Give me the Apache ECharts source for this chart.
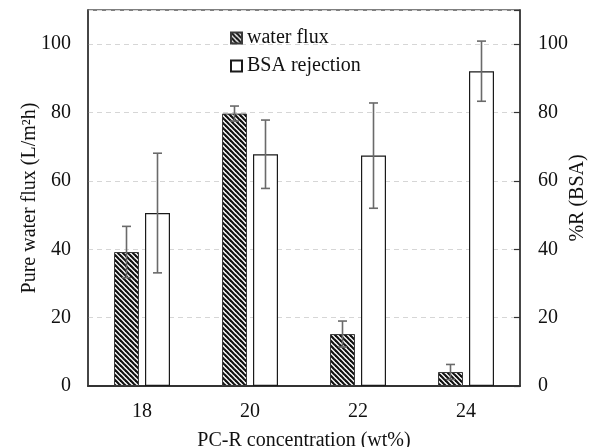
<!DOCTYPE html>
<html>
<head>
<meta charset="utf-8">
<script src="https://cdn.jsdelivr.net/npm/echarts@6/dist/echarts.min.js"></script>
<style>
html,body{margin:0;padding:0;background:#fff;}
#chart{width:590px;height:447px;}
</style>
</head>
<body>
<div id="chart"></div>
<script>
var categories = ['18', '20', '22', '24'];
var fluxValues = [39.2, 79.7, 15.2, 4.1];
var fluxErrors = [7.5, 2.2, 3.8, 2.2];
var bsaValues = [50.6, 67.8, 67.4, 92.1];
var bsaErrors = [17.5, 10.0, 15.4, 8.8];
var leftTicks = [0, 20, 40, 60, 80, 100];
var rightTicks = [0, 20, 40, 60, 80, 100];

var FONT = '"Liberation Serif", "Times New Roman", serif';

function makeHatch() {
  var s = 5;
  var c = document.createElement('canvas');
  c.width = s; c.height = s;
  var ctx = c.getContext('2d');
  ctx.fillStyle = '#ffffff';
  ctx.fillRect(0, 0, s, s);
  ctx.strokeStyle = '#111111';
  ctx.lineWidth = 2.2;
  [-s, 0, s].forEach(function (o) {
    ctx.beginPath();
    ctx.moveTo(-1, -1 + o);
    ctx.lineTo(s + 1, s + 1 + o);
    ctx.stroke();
  });
  return c;
}
var hatch = { image: makeHatch(), repeat: 'repeat' };

function errorSeries(values, errors, axisIdx, offset) {
  return {
    type: 'custom',
    yAxisIndex: axisIdx,
    silent: true,
    z: 5,
    data: values.map(function (v, i) { return [i, v - errors[i], v + errors[i]]; }),
    renderItem: function (params, api) {
      var lo = api.coord([api.value(0), api.value(1)]);
      var hi = api.coord([api.value(0), api.value(2)]);
      var x = lo[0] + offset;
      var cap = 4.5;
      var st = { stroke: '#6a6a6a', lineWidth: 1.6 };
      return {
        type: 'group',
        children: [
          { type: 'line', shape: { x1: x, y1: lo[1], x2: x, y2: hi[1] }, style: st },
          { type: 'line', shape: { x1: x - cap, y1: hi[1], x2: x + cap, y2: hi[1] }, style: st },
          { type: 'line', shape: { x1: x - cap, y1: lo[1], x2: x + cap, y2: lo[1] }, style: st }
        ]
      };
    },
    encode: { x: 0, y: [1, 2] }
  };
}

var chart = echarts.init(document.getElementById('chart'), null, { renderer: 'canvas' });
var option = {
  animation: false,
  backgroundColor: '#ffffff',
  textStyle: { fontFamily: FONT },
  grid: {
    left: 88, right: 70, top: 10, bottom: 61,
    containLabel: false,
    outerBoundsMode: 'none',
    show: true, borderColor: '#555', borderWidth: 1.5, backgroundColor: 'transparent'
  },
  legend: {
    orient: 'vertical',
    left: 225, top: 23,
    itemWidth: 11, itemHeight: 11, itemGap: 8,
    icon: 'rect',
    selectedMode: false,
    textStyle: { fontFamily: FONT, fontSize: 20, color: '#111' },
    data: ['water flux', 'BSA rejection']
  },
  xAxis: {
    type: 'category',
    data: categories,
    name: 'PC-R concentration (wt%)',
    nameLocation: 'middle',
    nameGap: 45,
    nameMoveOverlap: false,
    nameTextStyle: { fontFamily: FONT, fontSize: 20, color: '#111' },
    axisLine: { lineStyle: { color: '#333', width: 2 } },
    axisTick: { alignWithLabel: true, length: 5, lineStyle: { color: '#333', width: 1.2 } },
    axisLabel: { fontFamily: FONT, fontSize: 20, color: '#111', margin: 16 }
  },
  yAxis: [
    {
      type: 'value', min: 0, max: 110, interval: 20,
      name: 'Pure water flux (L/m\u00b2h)',
      nameLocation: 'middle',
      nameGap: 48,
      nameMoveOverlap: false,
      nameTextStyle: { fontFamily: FONT, fontSize: 20, color: '#111' },
      axisLine: { show: true, lineStyle: { color: '#333', width: 1.5 } },
      axisTick: { show: false },
      axisLabel: {
        fontFamily: FONT, fontSize: 20, color: '#111', margin: 17,
        formatter: function (v) { return leftTicks.indexOf(v) >= 0 ? String(v) : ''; }
      },
      splitLine: { show: true, lineStyle: { color: '#d6d6d6', type: [5, 4], width: 1 } }
    },
    {
      type: 'value', min: 0, max: 110, interval: 20,
      position: 'right',
      name: '%R (BSA)',
      nameLocation: 'middle',
      nameGap: 48,
      nameMoveOverlap: false,
      nameTextStyle: { fontFamily: FONT, fontSize: 20, color: '#111' },
      axisLine: { show: true, lineStyle: { color: '#333', width: 1.5 } },
      axisTick: { show: true, inside: true, length: 6, lineStyle: { color: '#333', width: 1.2 } },
      axisLabel: {
        fontFamily: FONT, fontSize: 20, color: '#111', margin: 18,
        formatter: function (v) { return rightTicks.indexOf(v) >= 0 ? String(v) : ''; }
      },
      splitLine: { show: false }
    }
  ],
  series: [
    {
      name: 'water flux',
      type: 'bar',
      yAxisIndex: 0,
      data: fluxValues,
      barWidth: 25,
      barGap: '24%',
      itemStyle: { color: hatch, borderColor: '#3a3a3a', borderWidth: 1 }
    },
    {
      name: 'BSA rejection',
      type: 'bar',
      yAxisIndex: 1,
      data: bsaValues,
      barWidth: 25,
      barGap: '24%',
      itemStyle: { color: '#ffffff', borderColor: '#1a1a1a', borderWidth: 1.2 }
    },
    errorSeries(fluxValues, fluxErrors, 0, -15.5),
    errorSeries(bsaValues, bsaErrors, 1, 15.5)
  ]
};
chart.setOption(option);
</script>
</body>
</html>
